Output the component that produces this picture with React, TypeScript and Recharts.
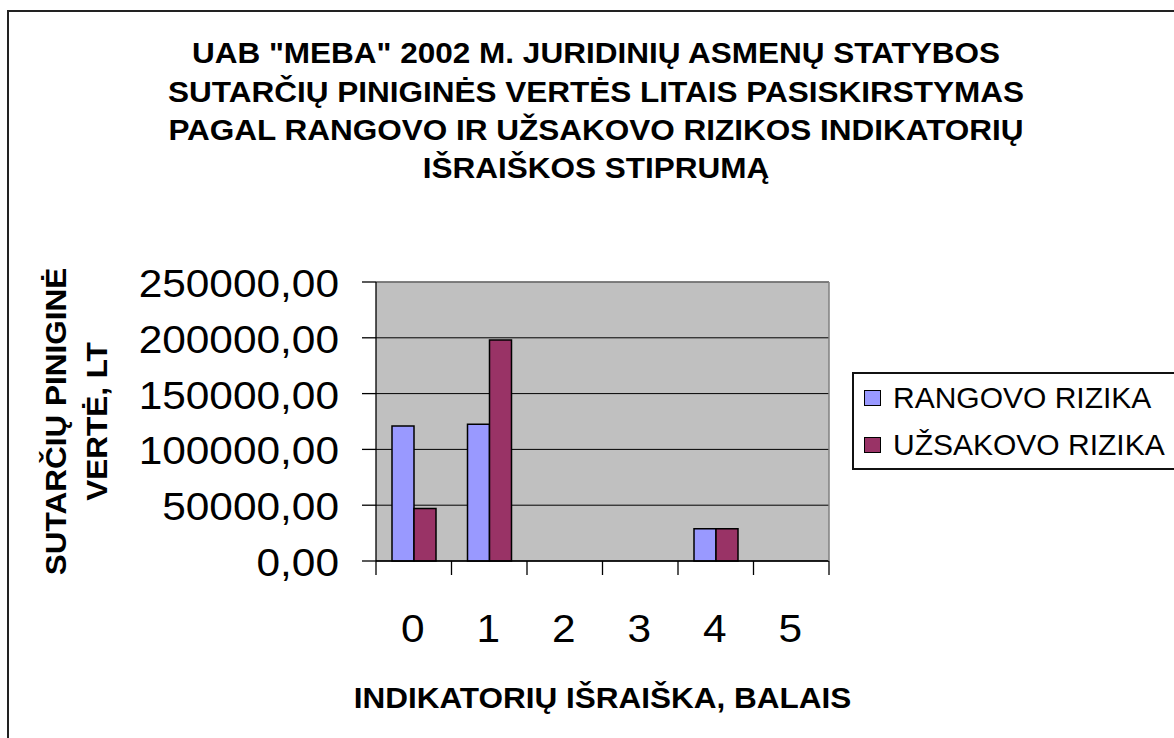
import { BarChart, Bar, XAxis, YAxis, CartesianGrid, Legend, ReferenceLine } from "recharts";

const CATEGORIES = ["0", "1", "2", "3", "4", "5"];
const RANGOVO = [121000, 122500, 0, 0, 29000, 0];
const UZSAKOVO = [47000, 198000, 0, 0, 29000, 0];
const Y_TICKS = [0, 50000, 100000, 150000, 200000, 250000];
const SERIES = ["RANGOVO RIZIKA", "UŽSAKOVO RIZIKA"];
const TITLE_LINES = [
  'UAB "MEBA" 2002 M. JURIDINIŲ ASMENŲ STATYBOS',
  "SUTARČIŲ PINIGINĖS VERTĖS LITAIS PASISKIRSTYMAS",
  "PAGAL RANGOVO IR UŽSAKOVO RIZIKOS INDIKATORIŲ",
  "IŠRAIŠKOS STIPRUMĄ",
];
const Y_TITLE = ["SUTARČIŲ PINIGINĖ", "VERTĖ, LT"];
const X_TITLE = "INDIKATORIŲ IŠRAIŠKA, BALAIS";

const COLORS = ["#9999ff", "#993366"];
const FONT = '"Liberation Sans", Arial, sans-serif';
const SX = 1.087; // source text is drawn a little wider than plain Arial

const data = CATEGORIES.map((cat, i) => ({ cat, rangovo: RANGOVO[i], uzsakovo: UZSAKOVO[i] }));

const fmt = (v: number) => v.toFixed(2).replace(".", ",");

function YTick({ x, y, payload }: any) {
  return (
    <text transform={`translate(${x},${y + 15}) scale(${SX},1)`} textAnchor="end" fontSize={39} fontFamily={FONT} fill="#000">
      {fmt(payload.value)}
    </text>
  );
}

// excel style: tick marks sit between categories, label in the middle
function XTick({ x, y, payload, index }: any) {
  const half = payload?.offset ?? 453 / 12;
  return (
    <g>
      <line x1={x - half} x2={x - half} y1={y} y2={y + 14} stroke="#000" strokeWidth={1.3} />
      {index === CATEGORIES.length - 1 && (
        <line x1={x + half} x2={x + half} y1={y} y2={y + 14} stroke="#000" strokeWidth={1.3} />
      )}
      <text transform={`translate(${x - 1},${y + 81}) scale(${SX},1)`} textAnchor="middle" fontSize={39} fontFamily={FONT} fill="#000">
        {payload.value}
      </text>
    </g>
  );
}

function YTitle({ viewBox }: any) {
  const cy = viewBox.y + viewBox.height / 2;
  const cols = [viewBox.x + 66, viewBox.x + 107];
  return (
    <g>
      {Y_TITLE.map((t, i) => (
        <text
          key={t}
          transform={`translate(${cols[i]},${cy}) rotate(-90) scale(${SX},1)`}
          textAnchor="middle"
          fontSize={29}
          fontWeight="bold"
          fontFamily={FONT}
          fill="#000"
        >
          {t}
        </text>
      ))}
    </g>
  );
}

function XTitle({ viewBox }: any) {
  const cx = viewBox.x + viewBox.width / 2;
  return (
    <text transform={`translate(${cx},${viewBox.y + 147}) scale(${SX},1)`} textAnchor="middle" fontSize={29} fontWeight="bold" fontFamily={FONT} fill="#000">
      {X_TITLE}
    </text>
  );
}

function LegendBox({ payload }: any) {
  return (
    <div style={{ border: "2px solid #111", background: "#fff", width: 340, fontFamily: FONT, fontSize: 30, color: "#000" }}>
      {(payload || []).map((e: any) => (
        <div key={e.value} style={{ display: "flex", alignItems: "center", height: 47 }}>
          <span
            style={{
              display: "inline-block",
              boxSizing: "border-box",
              width: 17,
              height: 16,
              marginLeft: 10,
              marginRight: 12,
              background: e.color,
              border: "1.5px solid #000",
            }}
          />
          <span style={{ lineHeight: "30px", whiteSpace: "nowrap" }}>{e.value}</span>
        </div>
      ))}
    </div>
  );
}

export default function App() {
  return (
    <div style={{ position: "fixed", left: 0, top: 0, width: 1174, height: 738, overflow: "hidden", background: "#fff" }}>
      <div style={{ position: "absolute", left: 7, top: 10, width: 1300, height: 800, border: "2px solid #222" }} />
      <svg style={{ position: "absolute", left: 0, top: 0 }} width={1174} height={200}>
        {TITLE_LINES.map((t, i) => (
          <text
            key={t}
            transform={`translate(596,${63.3 + i * 38.3}) scale(${SX},1)`}
            textAnchor="middle"
            fontSize={29}
            fontWeight="bold"
            fontFamily={FONT}
            fill="#000"
          >
            {t}
          </text>
        ))}
      </svg>
      <div style={{ position: "absolute", left: 0, top: 0 }}>
        <BarChart
          width={1300}
          height={800}
          data={data}
          margin={{ top: 282, right: 461, bottom: 0, left: 0 }}
          barCategoryGap={16}
          barGap={0}
        >
          <CartesianGrid vertical={false} stroke="#000" fill="#c0c0c0" fillOpacity={1} />
          <XAxis
            dataKey="cat"
            height={239}
            interval={0}
            tickLine={false}
            tickSize={0}
            tickMargin={0}
            axisLine={{ stroke: "#000", strokeWidth: 1.3 }}
            tick={<XTick />}
            label={{ content: (p: any) => <XTitle viewBox={p.viewBox} /> }}
          />
          <YAxis
            width={376}
            type="number"
            domain={[0, 250000]}
            ticks={Y_TICKS}
            interval={0}
            tickSize={14}
            tickMargin={23}
            tickLine={{ stroke: "#000", strokeWidth: 1.3 }}
            axisLine={{ stroke: "#000", strokeWidth: 1.3 }}
            tick={<YTick />}
            label={{ content: (p: any) => <YTitle viewBox={p.viewBox} /> }}
          />
          <YAxis
            yAxisId="r"
            orientation="right"
            width={10}
            type="number"
            domain={[0, 250000]}
            tick={false}
            tickLine={false}
            axisLine={{ stroke: "#808080", strokeWidth: 1.5 }}
          />
          <ReferenceLine y={250000} stroke="#808080" strokeWidth={1.5} />
          <Legend
            layout="vertical"
            align="center"
            verticalAlign="middle"
            wrapperStyle={{ left: 852, top: 372, width: 340 }}
            content={<LegendBox />}
          />
          <Bar dataKey="rangovo" name={SERIES[0]} fill={COLORS[0]} stroke="#000" strokeWidth={1.5} isAnimationActive={false} />
          <Bar dataKey="uzsakovo" name={SERIES[1]} fill={COLORS[1]} stroke="#000" strokeWidth={1.5} isAnimationActive={false} />
        </BarChart>
      </div>
    </div>
  );
}
